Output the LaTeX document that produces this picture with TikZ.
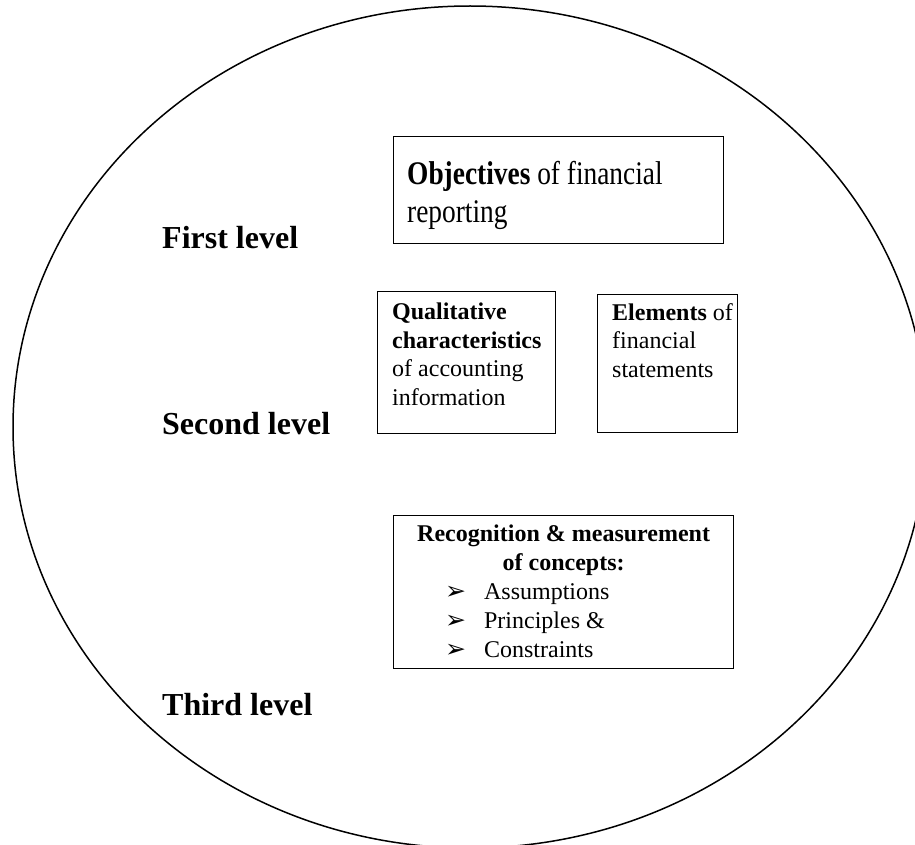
\documentclass[tikz,border=0pt]{standalone}
\usepackage{fontspec}
\setmainfont{Liberation Serif}
\newfontfamily\condserif[FakeStretch=0.83]{Liberation Serif}
\newfontfamily\arrowfont{DejaVu Sans}
\newcommand{\recbullet}{{\arrowfont\fontsize{25}{29}\selectfont ➢}\hspace{18pt}}
\begin{document}
\begin{tikzpicture}[
    x=1pt, y=-1pt,
    box/.style={rectangle, draw=black, line width=1.3pt, anchor=north west, inner sep=0pt},
    boxtext/.style={anchor=north west, inner sep=0pt, align=left, font=\fontsize{24}{28.5}\selectfont},
    levellabel/.style={anchor=west, inner sep=0pt, font=\fontsize{32}{38}\selectfont\bfseries}
]

    % 1. Frame and ellipse
    \useasboundingbox (0,0) rectangle (915,845);
    \clip (0,0) rectangle (915,845);
    \draw[line width=1.5pt] (470,427) ellipse [x radius=457pt, y radius=421pt];

    % 2. Level labels
    \node[levellabel] (first) at (162,238) {First level};
    \node[levellabel] (second) at (162,424) {Second level};
    \node[levellabel] (third) at (162,705) {Third level};

    % 3. First level box
    \node[box, minimum width=330pt, minimum height=107pt] (obj) at (393,136) {};
    \node[boxtext, font=\condserif\fontsize{33}{38}\selectfont] (objtxt) at (407,161)
        {\textbf{Objectives} of financial\\reporting};

    % 4. Second level boxes
    \node[box, minimum width=178pt, minimum height=142pt] (qual) at (377,291) {};
    \node[boxtext] (qualtxt) at ([shift={(15,12)}]qual.north west)
        {\textbf{Qualitative}\\\textbf{characteristics}\\of accounting\\information};
    \node[box, minimum width=140pt, minimum height=138pt] (elem) at (597,294) {};
    \node[boxtext] (elemtxt) at ([shift={(15,9)}]elem.north west)
        {\textbf{Elements} of\\financial\\statements};

    % 5. Third level box
    \node[box, minimum width=340pt, minimum height=153pt] (rec) at (393,515) {};
    \node[boxtext, anchor=north, align=center, font=\fontsize{24}{29}\selectfont\bfseries] (rechead)
        at ([yshift=-10pt]rec.north) {Recognition \& measurement\\of concepts:};
    \node[boxtext, font=\fontsize{24}{29}\selectfont] (reclist) at ([shift={(52,68)}]rec.north west)
        {\recbullet Assumptions\\
         \recbullet Principles \&\\
         \recbullet Constraints};

\end{tikzpicture}
\end{document}
